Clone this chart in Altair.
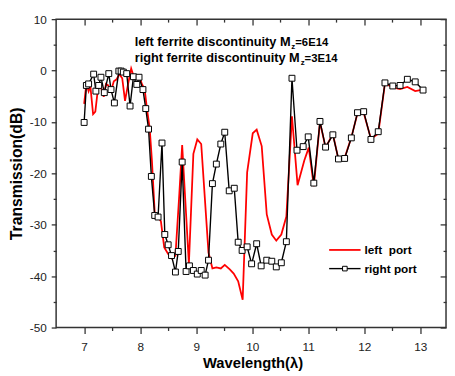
import altair as alt
import pandas as pd

# ---- data ----
left_x = [7.00, 7.04, 7.08, 7.11, 7.16, 7.20, 7.25, 7.29, 7.35, 7.39, 7.43, 7.48, 7.53, 7.58,
          7.63, 7.68, 7.73, 7.78, 7.84, 7.89, 7.95, 7.99, 8.03, 8.08, 8.12, 8.17, 8.21, 8.26,
          8.32, 8.37, 8.43, 8.50, 8.57, 8.63, 8.70, 8.75, 8.87, 8.95, 9.02, 9.09, 9.22, 9.29,
          9.36, 9.44, 9.51, 9.60, 9.67, 9.75, 9.83, 9.91, 10.01, 10.08, 10.17, 10.26, 10.35,
          10.43, 10.52, 10.61, 10.71, 10.81, 10.93, 11.01, 11.10, 11.21, 11.31, 11.44, 11.54,
          11.65, 11.77, 11.88, 11.99, 12.12, 12.25, 12.37, 12.51, 12.64, 12.77, 12.91, 13.05]
left_y = [-6.5, -2.6, -4.0, -2.9, -8.5, -8.0, -3.2, -2.9, -5.1, -2.6, -2.9, -4.0, -2.1, -1.7,
          -0.7, -1.5, -5.9, -2.9, 0.4, -1.3, -1.0, -1.1, -2.6, -3.6, -7.3, -11.2, -17.5, -27.7,
          -28.5, -29.3, -34.4, -35.7, -36.6, -36.0, -23.9, -14.5, -37.6, -16.2, -13.4, -14.3, -35.4, -38.5,
          -38.3, -38.5, -37.8, -38.7, -39.5, -41.0, -44.6, -19.8, -12.2, -11.5, -14.7, -28.0, -31.9,
          -33.1, -31.9, -28.4, -8.9, -22.3, -17.5, -15.0, -22.5, -10.0, -15.0, -12.3, -17.3,
          -17.0, -13.0, -8.3, -8.2, -13.3, -12.3, -2.5, -3.3, -3.6, -3.2, -4.0, -3.7]

right_x = [7.00, 7.04, 7.08, 7.17, 7.21, 7.26, 7.30, 7.36, 7.44, 7.48, 7.54, 7.62, 7.66, 7.70,
           7.76, 7.82, 7.88, 7.94, 7.98, 8.05, 8.10, 8.15, 8.20, 8.26, 8.32, 8.39, 8.44, 8.50,
           8.56, 8.63, 8.68, 8.75, 8.82, 8.88, 8.95, 9.02, 9.09, 9.16, 9.22, 9.29, 9.36, 9.44,
           9.51, 9.59, 9.68, 9.75, 9.82, 9.91, 9.99, 10.08, 10.16, 10.26, 10.35, 10.43, 10.52,
           10.61, 10.71, 10.80, 10.91, 11.00, 11.10, 11.21, 11.31, 11.44, 11.54, 11.65, 11.77,
           11.88, 11.99, 12.12, 12.25, 12.37, 12.51, 12.64, 12.77, 12.91, 13.05]
right_y = [-10.1, -2.9, -2.6, -0.7, -4.0, -2.9, -1.3, -4.3, -0.6, -3.7, -6.3, -0.1, -0.1, -0.3,
           -0.6, -6.9, -1.2, -2.7, -1.3, -3.7, -7.4, -11.4, -20.6, -28.2, -28.5, -14.1, -31.9, -33.9,
           -36.0, -39.2, -35.2, -17.8, -39.1, -38.0, -38.9, -39.6, -38.9, -39.8, -36.9, -22.0, -18.2, -14.3,
           -12.0, -23.4, -22.9, -33.4, -35.0, -34.3, -37.6, -33.7, -38.0, -36.9, -37.1, -38.2, -37.4,
           -33.3, -1.5, -15.5, -14.8, -12.9, -21.9, -9.9, -14.9, -12.5, -17.2, -17.1, -13.1,
           -8.2, -8.0, -13.4, -11.9, -2.4, -3.0, -2.9, -1.7, -2.2, -3.8]

x_major = [7, 8, 9, 10, 11, 12, 13]
x_minor = [7.5, 8.5, 9.5, 10.5, 11.5, 12.5]
y_major = [-50, -40, -30, -20, -10, 0, 10]
y_minor = [-45, -35, -25, -15, -5, 5]

series_names = ["left\u00a0\u00a0port", "right port"]
annot_main = ["left ferrite discontinuity M", "right ferrite discontinuity M"]
annot_sub = ["z", "z"]
annot_tail = ["=6E14", "=3E14"]

FONT = "Liberation Sans"
W, H = 397, 314
XDOM = [6.5, 13.46]
YDOM = [-50, 10]

left_df = pd.DataFrame({"x": left_x, "y": left_y})
right_df = pd.DataFrame({"x": right_x, "y": right_y})

lab = "datum.value + ''"


def xs(axis):
    return alt.X("x:Q", scale=alt.Scale(domain=XDOM, nice=False, zero=False), axis=axis)


def ys(axis):
    return alt.Y("y:Q", scale=alt.Scale(domain=YDOM, nice=False, zero=False), axis=axis)


ax_bottom = alt.Axis(orient="bottom", values=x_major, tickSize=6, labelPadding=8, labelExpr=lab,
                     title="Wavelength(λ)", titleFontSize=15, titleX=200, titleY=41,
                     titleBaseline="alphabetic", titleAlign="center")
ax_left = alt.Axis(orient="left", values=y_major, tickSize=5, labelPadding=5, labelExpr=lab,
                   title="Transmission(dB)", titleFontSize=16, titleX=-35, titleY=H / 2,
                   titleAngle=270, titleBaseline="alphabetic", titleAlign="center")
ax_bottom_minor = alt.Axis(orient="bottom", values=x_minor, tickSize=3, labels=False, title=None)
ax_left_minor = alt.Axis(orient="left", values=y_minor, tickSize=3, labels=False, title=None)
ax_top = alt.Axis(orient="top", values=x_major, tickSize=6, offset=-6, labels=False, title=None)
ax_right = alt.Axis(orient="right", values=y_major, tickSize=6, offset=-6, labels=False, title=None)
ax_top_minor = alt.Axis(orient="top", values=x_minor, tickSize=3, offset=-3, labels=False, title=None)
ax_right_minor = alt.Axis(orient="right", values=y_minor, tickSize=3, offset=-3, labels=False, title=None)

red_line = alt.Chart(left_df).mark_line(color="#ff0000", strokeWidth=1.8).encode(
    x=xs(ax_bottom), y=ys(ax_left), order="x:Q")
black_line = alt.Chart(right_df).mark_line(color="#000000", strokeWidth=1.4).encode(
    x=xs(ax_bottom_minor), y=ys(ax_left_minor), order="x:Q")
black_pts = alt.Chart(right_df).mark_point(shape="square", filled=True, fill="white",
                                           stroke="black", strokeWidth=1, size=36, opacity=1).encode(
    x=xs(ax_top), y=ys(ax_right))
ghost = alt.Chart(right_df).mark_point(opacity=0).encode(
    x=xs(ax_top_minor), y=ys(ax_right_minor))

one = pd.DataFrame({"a": [0]})

texts = []
line_x = 80
line_y = [27, 44]
sub_x = [239.5, 249]
tail_x = [243.5, 253]
for i in range(2):
    texts.append(alt.Chart(one).mark_text(font=FONT, fontSize=13, fontWeight="bold", align="left",
                                          baseline="alphabetic", color="black").encode(
        x=alt.value(line_x), y=alt.value(line_y[i]), text=alt.value(annot_main[i])))
    texts.append(alt.Chart(one).mark_text(font=FONT, fontSize=8, fontWeight="bold", align="left",
                                          baseline="alphabetic", color="black").encode(
        x=alt.value(sub_x[i]), y=alt.value(line_y[i] + 3), text=alt.value(annot_sub[i])))
    texts.append(alt.Chart(one).mark_text(font=FONT, fontSize=11.5, fontWeight="bold", align="left",
                                          baseline="alphabetic", color="black").encode(
        x=alt.value(tail_x[i]), y=alt.value(line_y[i]), text=alt.value(annot_tail[i])))

# legend
leg_y = [235, 254]
leg = [
    alt.Chart(one).mark_rule(color="#ff0000", strokeWidth=1.8).encode(
        x=alt.value(278), x2=alt.value(310), y=alt.value(leg_y[0])),
    alt.Chart(one).mark_rule(color="black", strokeWidth=1.4).encode(
        x=alt.value(278), x2=alt.value(310), y=alt.value(leg_y[1])),
    alt.Chart(one).mark_point(shape="square", filled=True, fill="white", stroke="black",
                              strokeWidth=1, size=22, opacity=1).encode(
        x=alt.value(294), y=alt.value(leg_y[1])),
]
for i in range(2):
    leg.append(alt.Chart(one).mark_text(font=FONT, fontSize=12, fontWeight="bold", align="left",
                                        baseline="middle", color="black").encode(
        x=alt.value(314), y=alt.value(leg_y[i]), text=alt.value(series_names[i])))

chart = alt.layer(red_line, black_line, black_pts, ghost, *texts, *leg).resolve_axis(
    x="independent", y="independent"
).properties(
    width=W, height=H,
    autosize=alt.AutoSizeParams(type="none"),
    padding={"left": 49, "top": 8, "right": 1, "bottom": 46},
).configure_view(
    stroke="#333333", strokeWidth=1.5
).configure_axis(
    domain=False, grid=False, tickColor="#333333", tickWidth=1.3,
    labelFont=FONT, labelFontSize=12, labelColor="#222222",
    titleFont=FONT, titleFontWeight="bold", titleColor="black",
)

chart.save("out.html", embed_options={"renderer": "svg", "actions": False})
